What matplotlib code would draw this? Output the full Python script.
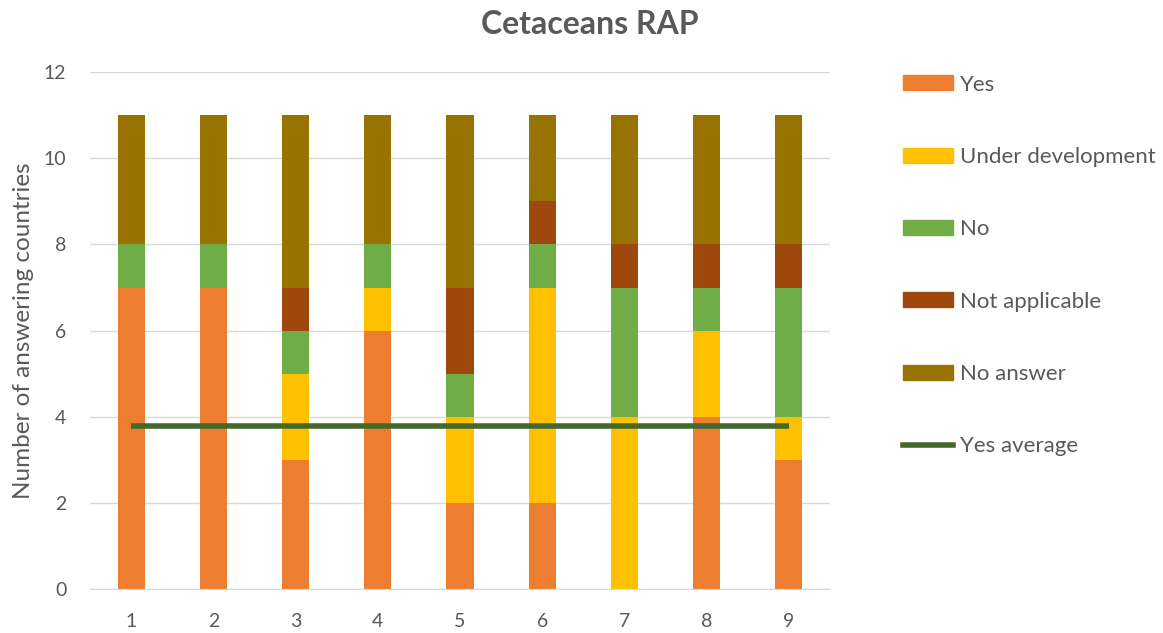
import numpy as np
import matplotlib.pyplot as plt
from matplotlib.patches import Patch
from matplotlib.lines import Line2D

plt.rcParams["font.family"] = ["Lato", "DejaVu Sans"]

# 数据
categories = [1, 2, 3, 4, 5, 6, 7, 8, 9]
yes = [7, 7, 3, 6, 2, 2, 0, 4, 3]
under_dev = [0, 0, 2, 1, 2, 5, 4, 2, 1]
no = [1, 1, 1, 1, 1, 1, 3, 1, 3]
not_applicable = [0, 0, 1, 0, 2, 1, 1, 1, 1]
no_answer = [3, 3, 4, 3, 4, 2, 3, 3, 3]
yes_average = [3.78] * 9

series = [
    ("Yes", yes, "#ED7D31"),
    ("Under development", under_dev, "#FFC000"),
    ("No", no, "#70AD47"),
    ("Not applicable", not_applicable, "#9E480E"),
    ("No answer", no_answer, "#997300"),
]

fig = plt.figure(figsize=(11.63, 6.33), dpi=100)
ax = fig.add_axes([0.0774, 0.0695, 0.6363, 0.8165])

x = np.array(categories)
bottom = np.zeros(len(categories))
for name, vals, col in series:
    ax.bar(x, vals, width=0.33, bottom=bottom, color=col, zorder=2)
    bottom += np.array(vals)

ax.plot(x, yes_average, color="#43682B", lw=4, zorder=3, solid_capstyle="butt")

ax.set_xlim(0.5, 9.5)
ax.set_ylim(0, 12)
ax.set_yticks(range(0, 13, 2))
ax.set_xticks(categories)
ax.grid(True, axis="y", color="#D9D9D9", lw=1, zorder=0)
for s in ["top", "right", "left"]:
    ax.spines[s].set_visible(False)
ax.spines["bottom"].set_color("#D9D9D9")
ax.tick_params(length=0, labelsize=14, colors="#595959")
ax.tick_params(axis="x", pad=17)
ax.tick_params(axis="y", pad=17)
ax.set_ylabel("Number of answering countries", fontsize=17.5, color="#595959", labelpad=7)
fig.text(0.507, 0.962, "Cetaceans RAP", ha="center", va="center",
         fontsize=23, fontweight="bold", color="#595959")

handles = [Patch(color=c) for _, _, c in series]
handles.append(Line2D([0], [0], color="#43682B", lw=4))
labels = [n for n, _, _ in series] + ["Yes average"]
leg = fig.legend(handles, labels, loc="upper left", bbox_to_anchor=(0.7764, 0.882),
                 frameon=False, fontsize=16, labelspacing=2.355, handlelength=2.25,
                 handleheight=0.65, handletextpad=0.3, borderpad=0, borderaxespad=0,
                 labelcolor="#595959")

plt.savefig("out.png", dpi=100)
